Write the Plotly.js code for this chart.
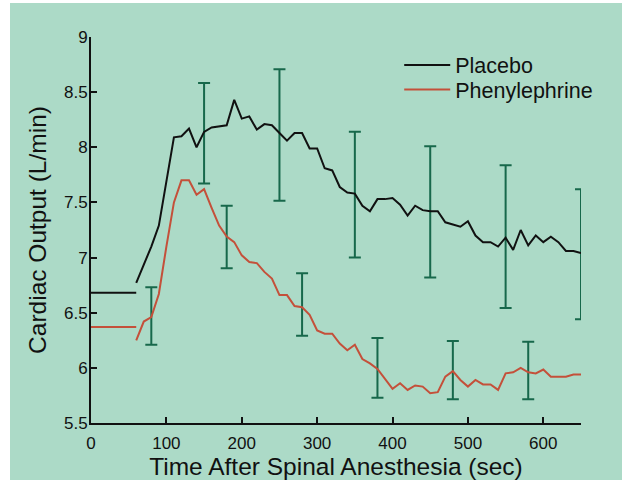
<!DOCTYPE html>
<html>
<head>
<meta charset="utf-8">
<script src="https://cdn.plot.ly/plotly-3.0.1.min.js"></script>
<style>
  html, body { margin: 0; padding: 0; background: #ffffff; }
  #chart { position: absolute; left: 10px; top: 3px; width: 612px; height: 477px; }
</style>
</head>
<body>
<div id="chart"></div>
<script>
// ---- Data ----
const baselineTime = [0, 60];
const placeboBaseline = 6.68;
const phenylBaseline = 6.37;

const time = [60, 70, 80, 90, 100, 110, 120, 130, 140, 150,
              160, 170, 180, 190, 200, 210, 220, 230, 240, 250,
              260, 270, 280, 290, 300, 310, 320, 330, 340, 350,
              360, 370, 380, 390, 400, 410, 420, 430, 440, 450,
              460, 470, 480, 490, 500, 510, 520, 530, 540, 550,
              560, 570, 580, 590, 600, 610, 620, 630, 640, 650];

const placebo = [6.77, 6.93, 7.10, 7.29, 7.69, 8.09, 8.10, 8.17, 8.00, 8.14,
                 8.18, 8.19, 8.20, 8.43, 8.26, 8.28, 8.16, 8.21, 8.20, 8.13,
                 8.06, 8.13, 8.13, 7.99, 7.99, 7.81, 7.79, 7.64, 7.59, 7.58,
                 7.47, 7.42, 7.53, 7.53, 7.54, 7.48, 7.38, 7.47, 7.43, 7.42,
                 7.42, 7.32, 7.30, 7.28, 7.33, 7.20, 7.14, 7.14, 7.10, 7.18,
                 7.07, 7.25, 7.11, 7.20, 7.14, 7.19, 7.14, 7.06, 7.06, 7.04];

const phenylephrine = [6.25, 6.42, 6.46, 6.67, 7.10, 7.50, 7.70, 7.70, 7.57, 7.62,
                       7.45, 7.29, 7.19, 7.14, 7.02, 6.96, 6.95, 6.87, 6.81, 6.66,
                       6.66, 6.56, 6.55, 6.48, 6.34, 6.31, 6.31, 6.22, 6.16, 6.21,
                       6.08, 6.04, 5.99, 5.90, 5.81, 5.86, 5.80, 5.84, 5.83, 5.77,
                       5.78, 5.92, 5.97, 5.89, 5.83, 5.89, 5.85, 5.85, 5.80, 5.95,
                       5.96, 6.00, 5.96, 5.95, 5.985, 5.92, 5.92, 5.92, 5.94, 5.94];

// error bars (centre and half-width)
const placeboErrTime = [150, 250, 350, 450, 550, 650];
const placeboErrMid  = [8.128, 8.111, 7.57, 7.415, 7.19, 7.03];
const placeboErr     = [0.456, 0.596, 0.57, 0.595, 0.647, 0.59];

const phenylErrTime = [80, 180, 280, 380, 480, 580];
const phenylErrMid  = [6.47, 7.187, 6.575, 6.0, 5.98, 5.976];
const phenylErr     = [0.26, 0.284, 0.283, 0.27, 0.264, 0.26];

const xTicks = [0, 100, 200, 300, 400, 500, 600];
const yTicks = [5.5, 6, 6.5, 7, 7.5, 8, 8.5, 9];

// ---- Build traces ----
const errColor = '#17684b';
const redColor = '#c4503a';
const font = 'Liberation Sans, Arial, Helvetica, sans-serif';

function withBaseline(base, values) {
  return {
    x: baselineTime.concat([null], time),
    y: baselineTime.map(() => base).concat([null], values)
  };
}

const p = withBaseline(placeboBaseline, placebo);
const ph = withBaseline(phenylBaseline, phenylephrine);

const traces = [
  {
    x: placeboErrTime, y: placeboErrMid, type: 'scatter', mode: 'markers',
    marker: {size: 1, color: 'rgba(0,0,0,0)'},
    error_y: {type: 'data', array: placeboErr, visible: true, color: errColor, thickness: 2, width: 6},
    showlegend: false, hoverinfo: 'skip'
  },
  {
    x: phenylErrTime, y: phenylErrMid, type: 'scatter', mode: 'markers',
    marker: {size: 1, color: 'rgba(0,0,0,0)'},
    error_y: {type: 'data', array: phenylErr, visible: true, color: errColor, thickness: 2, width: 6},
    showlegend: false, hoverinfo: 'skip'
  },
  {
    x: p.x, y: p.y, type: 'scatter', mode: 'lines', name: 'Placebo',
    line: {color: '#111111', width: 2}, connectgaps: false, legend: 'legend'
  },
  {
    x: ph.x, y: ph.y, type: 'scatter', mode: 'lines', name: 'Phenylephrine',
    line: {color: redColor, width: 2}, connectgaps: false, legend: 'legend2'
  }
];

const legendBase = {
  x: 0.629, xanchor: 'left', yanchor: 'middle',
  bgcolor: 'rgba(0,0,0,0)', borderwidth: 0,
  font: {family: font, size: 21.5, color: '#111111'},
  itemwidth: 46
};

const layout = {
  width: 612, height: 477,
  paper_bgcolor: '#acdac7',
  plot_bgcolor: '#acdac7',
  margin: {l: 81, r: 41, t: 34, b: 57},
  font: {family: font, color: '#111111', size: 17},
  showlegend: true,
  legend: Object.assign({}, legendBase, {y: 0.9275}),
  legend2: Object.assign({}, legendBase, {y: 0.864}),
  xaxis: {
    range: [0, 650], tickvals: xTicks, ticks: 'inside', ticklen: 6, tickwidth: 2,
    tickcolor: '#111111', showline: true, linecolor: '#111111', linewidth: 2,
    showgrid: false, zeroline: false, fixedrange: true, ticklabelstandoff: 4,
    tickfont: {family: font, size: 17, color: '#111111'},
    title: {text: 'Time After Spinal Anesthesia (sec)', font: {family: font, size: 24.5, color: '#111111'}, standoff: 5}
  },
  yaxis: {
    range: [5.5, 9], tickvals: yTicks, ticks: 'inside', ticklen: 6, tickwidth: 2,
    tickcolor: '#111111', showline: true, linecolor: '#111111', linewidth: 2,
    showgrid: false, zeroline: false, fixedrange: true, ticklabelstandoff: -2,
    tickfont: {family: font, size: 17, color: '#111111'},
    title: {text: 'Cardiac Output (L/min)', font: {family: font, size: 24.5, color: '#111111'}, standoff: 10}
  }
};

Plotly.newPlot('chart', traces, layout, {displayModeBar: false, staticPlot: true});
</script>
</body>
</html>
